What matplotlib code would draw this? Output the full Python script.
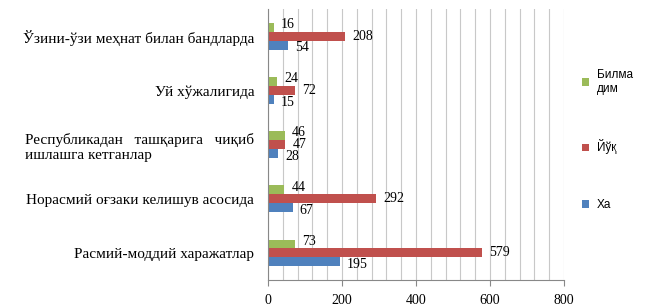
import numpy as np
import matplotlib.pyplot as plt

plt.rcParams['font.family'] = ['Liberation Serif', 'DejaVu Serif']

# Категориялар (пастдан юқорига)
categories = ['Расмий-моддий харажатлар',
              'Норасмий оғзаки келишув асосида',
              'Республикадан   ташқарига   чиқиб\nишлашга кетганлар',
              'Уй хўжалигида',
              'Ўзини-ўзи меҳнат билан бандларда']
ha_vals = [195, 67, 28, 15, 54]
yoq_vals = [579, 292, 47, 72, 208]
bilmadim_vals = [73, 44, 46, 24, 16]

c_ha = '#4F81BD'
c_yoq = '#C0504D'
c_bil = '#9BBB59'

fig = plt.figure(figsize=(6.46, 3.06), dpi=100)
ax = fig.add_axes([0.415, 0.085, 0.458, 0.885])

y = np.arange(len(categories))
h = 0.165
b1 = ax.barh(y - h, ha_vals, h, color=c_ha, label='Ха')
b2 = ax.barh(y, yoq_vals, h, color=c_yoq, label='Йўқ')
b3 = ax.barh(y + h, bilmadim_vals, h, color=c_bil, label='Билма\nдим')

# қийматлар ёрлиқлари
for vals, off, dy in ((ha_vals, -h, -2), (yoq_vals, 0, 0), (bilmadim_vals, h, 2)):
    for i, v in enumerate(vals):
        ax.annotate(str(v), (v, i + off), xytext=(5, dy), textcoords='offset points',
                    va='center', ha='left', fontsize=10)

ax.set_xlim(0, 800)
ax.set_ylim(-0.5, 4.5)
ax.set_xticks([0, 200, 400, 600, 800])
ax.set_xticks(np.arange(0, 801, 40), minor=True)
ax.grid(axis='x', which='both', color='#c8c8c8', linewidth=0.8)
ax.set_axisbelow(True)
ax.set_yticks(y)
ax.set_yticklabels(categories, fontsize=11, multialignment='left')
ax.tick_params(axis='y', length=0, pad=10)
ax.tick_params(axis='x', which='major', length=4, color='#888888', labelsize=10, pad=6)
ax.tick_params(axis='x', which='minor', length=0)
for s in ['top', 'right']:
    ax.spines[s].set_visible(False)
ax.spines['left'].set_color('#888888')
ax.spines['bottom'].set_color('#888888')

handles = [b3, b2, b1]
labels = ['Билма\nдим', 'Йўқ', 'Ха']
fig.legend(handles, labels, loc='upper left', bbox_to_anchor=(0.885, 0.81),
           frameon=False, labelspacing=3.8, handlelength=0.6,
           handleheight=0.6, handletextpad=0.6,
           prop={'family': ['Liberation Sans', 'DejaVu Sans'], 'size': 8.5})

fig.savefig('out.png', dpi=100)
